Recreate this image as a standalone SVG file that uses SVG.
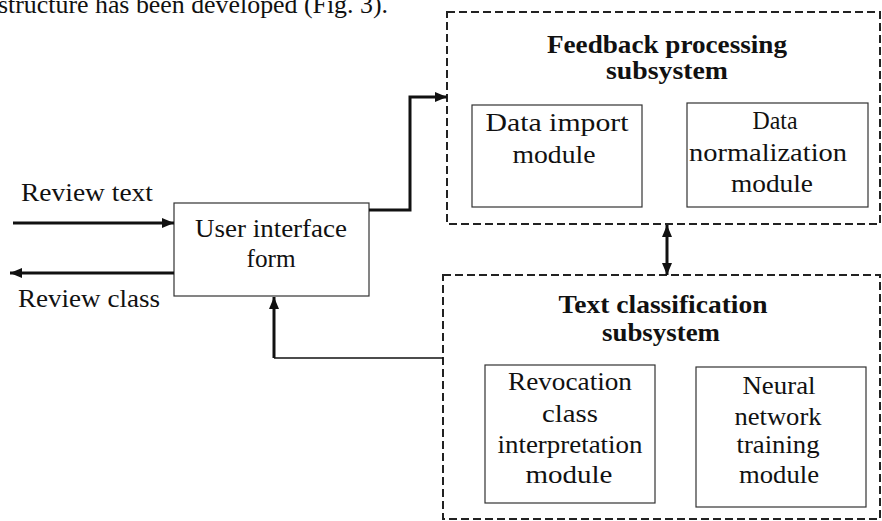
<svg xmlns="http://www.w3.org/2000/svg" width="882" height="521" viewBox="0 0 882 521">
<style>
.t{font-family:"Liberation Serif","Times New Roman",serif;font-size:26px;fill:#111;text-anchor:middle}
.tl{font-family:"Liberation Serif","Times New Roman",serif;font-size:26px;fill:#111}
.b{font-family:"Liberation Serif","Times New Roman",serif;font-size:25px;font-weight:bold;fill:#111;text-anchor:middle}
.box{fill:#fff;stroke:#333;stroke-width:1.2}
.sub{fill:none;stroke:#222;stroke-width:2;stroke-dasharray:8 4}
.thick{fill:none;stroke:#111;stroke-width:3}
.thin{fill:none;stroke:#111;stroke-width:1.3}
</style>
<defs>
<marker id="ah" viewBox="0 0 12 10" refX="12" refY="5" markerWidth="12" markerHeight="10" markerUnits="userSpaceOnUse" orient="auto-start-reverse">
<path d="M0,0 L12,5 L0,10 Z" fill="#111"/>
</marker>
</defs>
<rect width="882" height="521" fill="#fff"/>
<text class="tl" x="-2" y="13" textLength="390" lengthAdjust="spacingAndGlyphs">structure has been developed (Fig. 3).</text>

<g id="feedback-subsystem">
<rect class="sub" x="447" y="12" width="433" height="212"/>
<text class="b" x="667" y="53" textLength="240" lengthAdjust="spacingAndGlyphs">Feedback processing</text>
<text class="b" x="667" y="79" textLength="122" lengthAdjust="spacingAndGlyphs">subsystem</text>
</g>
<g id="data-import">
<rect class="box" x="472" y="105" width="170" height="102"/>
<text class="t" x="557" y="131" textLength="143" lengthAdjust="spacingAndGlyphs">Data import</text>
<text class="t" x="554" y="163" textLength="83" lengthAdjust="spacingAndGlyphs">module</text>
</g>
<g id="data-normalization">
<rect class="box" x="687" y="103" width="181" height="104"/>
<text class="t" x="775" y="129" textLength="45" lengthAdjust="spacingAndGlyphs">Data</text>
<text class="t" x="768" y="161" textLength="158" lengthAdjust="spacingAndGlyphs">normalization</text>
<text class="t" x="772" y="192" textLength="82" lengthAdjust="spacingAndGlyphs">module</text>
</g>
<g id="text-classification-subsystem">
<rect class="sub" x="443" y="275" width="437" height="244"/>
<text class="b" x="663" y="313" textLength="209" lengthAdjust="spacingAndGlyphs">Text classification</text>
<text class="b" x="661" y="341" textLength="118" lengthAdjust="spacingAndGlyphs">subsystem</text>
</g>
<g id="revocation">
<rect class="box" x="485" y="365" width="170" height="138"/>
<text class="t" x="570" y="390" textLength="124" lengthAdjust="spacingAndGlyphs">Revocation</text>
<text class="t" x="570" y="422" textLength="56" lengthAdjust="spacingAndGlyphs">class</text>
<text class="t" x="570" y="453" textLength="145" lengthAdjust="spacingAndGlyphs">interpretation</text>
<text class="t" x="569" y="483" textLength="87" lengthAdjust="spacingAndGlyphs">module</text>
</g>
<g id="neural">
<rect class="box" x="696" y="367" width="170" height="140"/>
<text class="t" x="779" y="394" textLength="73" lengthAdjust="spacingAndGlyphs">Neural</text>
<text class="t" x="778" y="425" textLength="87" lengthAdjust="spacingAndGlyphs">network</text>
<text class="t" x="778" y="453" textLength="83" lengthAdjust="spacingAndGlyphs">training</text>
<text class="t" x="779" y="483" textLength="80" lengthAdjust="spacingAndGlyphs">module</text>
</g>
<g id="user-interface">
<rect class="box" x="174" y="203" width="195" height="93"/>
<text class="t" x="271" y="237" textLength="152" lengthAdjust="spacingAndGlyphs">User interface</text>
<text class="t" x="271" y="267" textLength="49" lengthAdjust="spacingAndGlyphs">form</text>
</g>
<g id="labels">
<text class="tl" x="21" y="201" textLength="132" lengthAdjust="spacingAndGlyphs">Review text</text>
<text class="tl" x="18" y="307" textLength="142" lengthAdjust="spacingAndGlyphs">Review class</text>
</g>
<g id="connectors">
<line class="thick" x1="13" y1="223" x2="174" y2="223" marker-end="url(#ah)"/>
<line class="thick" x1="174" y1="273" x2="10" y2="273" marker-end="url(#ah)"/>
<polyline class="thick" points="369,210 410,210 410,97 447,97" marker-end="url(#ah)"/>
<line class="thick" x1="667" y1="225" x2="667" y2="275" marker-start="url(#ah)" marker-end="url(#ah)"/>
<polyline class="thin" points="443,358 274,358"/>
<line class="thick" x1="274" y1="358" x2="274" y2="297" marker-end="url(#ah)"/>
</g>
</svg>
